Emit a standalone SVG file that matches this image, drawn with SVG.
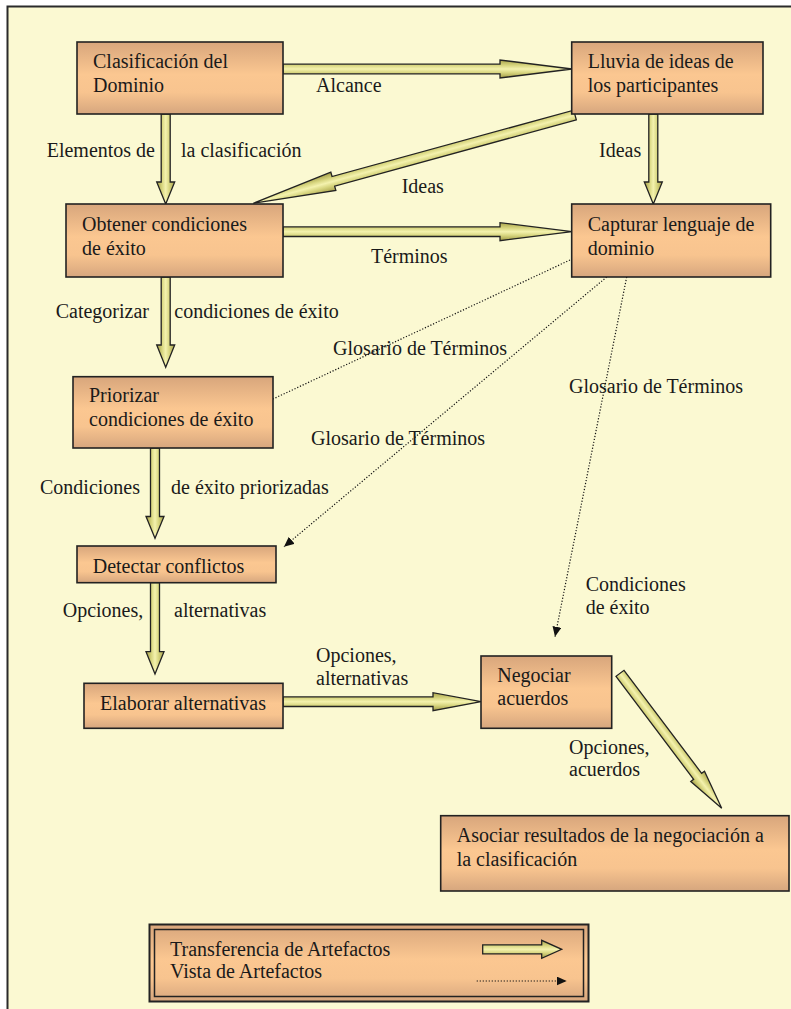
<svg xmlns="http://www.w3.org/2000/svg" width="791" height="1009" viewBox="0 0 791 1009">
<defs>
<linearGradient id="nodeGrad" x1="0" y1="0" x2="0" y2="1">
<stop offset="0" stop-color="#D8A67C"/>
<stop offset="0.45" stop-color="#FBC791"/>
<stop offset="0.7" stop-color="#F8C48F"/>
<stop offset="1" stop-color="#D6A67E"/>
</linearGradient>
<linearGradient id="arrowGrad" x1="0" y1="0" x2="0" y2="1">
<stop offset="0" stop-color="#A8A24A"/>
<stop offset="0.3" stop-color="#D8D680"/>
<stop offset="0.5" stop-color="#F4F2AE"/>
<stop offset="0.7" stop-color="#D8D680"/>
<stop offset="1" stop-color="#A09A44"/>
</linearGradient>
<marker id="dotHead" markerUnits="userSpaceOnUse" markerWidth="11" markerHeight="9" refX="10" refY="4.5" orient="auto">
<path d="M0,0 L10,4.5 L0,9 Z" fill="#111"/>
</marker>
</defs>
<style>
text{font-family:"Liberation Serif","Times New Roman",serif;font-size:20px;fill:#1a1a1a}
.node rect{fill:url(#nodeGrad);stroke:#222;stroke-width:1.6}
.fat{fill:url(#arrowGrad);stroke:#222;stroke-width:1.3;stroke-linejoin:miter}
.dot{fill:none;stroke:#111;stroke-width:1.2;stroke-dasharray:1.2 1.8}
</style>
<rect x="7.5" y="6.5" width="800" height="1020" fill="#FBF9D2" stroke="#2a2a2a" stroke-width="2"/>

<g id="connectors">
<!-- A1 Alcance -->
<path class="fat" transform="translate(283,69)" d="M0,-4.8 L217,-4.8 L217,-9 L289,0 L217,9 L217,4.8 L0,4.8 Z"/>
<!-- A2 Elementos de la clasificacion -->
<path class="fat" transform="translate(165.7,114) rotate(90)" d="M0,-4.5 L68,-4.5 L68,-9 L90,0 L68,9 L68,4.5 L0,4.5 Z"/>
<!-- A3 Ideas diagonal -->
<path class="fat" transform="translate(575,115) rotate(164.65)" d="M0,-5 L250.6,-5 L250.6,-9.5 L333.6,0 L250.6,9.5 L250.6,5 L0,5 Z"/>
<!-- A4 Ideas vertical -->
<path class="fat" transform="translate(653.3,114) rotate(90)" d="M0,-4.5 L68,-4.5 L68,-9 L90,0 L68,9 L68,4.5 L0,4.5 Z"/>
<!-- A5 Terminos -->
<path class="fat" transform="translate(283,231.7)" d="M0,-4.8 L217,-4.8 L217,-9 L289,0 L217,9 L217,4.8 L0,4.8 Z"/>
<!-- A6 Categorizar -->
<path class="fat" transform="translate(165.7,277) rotate(90)" d="M0,-4.5 L68,-4.5 L68,-9 L90.3,0 L68,9 L68,4.5 L0,4.5 Z"/>
<!-- A7 Condiciones -->
<path class="fat" transform="translate(155,448) rotate(90)" d="M0,-4.5 L68.5,-4.5 L68.5,-9 L90.3,0 L68.5,9 L68.5,4.5 L0,4.5 Z"/>
<!-- A8 Opciones -->
<path class="fat" transform="translate(155,582.7) rotate(90)" d="M0,-4.5 L69,-4.5 L69,-9 L91.3,0 L69,9 L69,4.5 L0,4.5 Z"/>
<!-- A9 Opciones alternativas -->
<path class="fat" transform="translate(283,701.7)" d="M0,-4.8 L150,-4.8 L150,-9 L198,0 L150,9 L150,4.8 L0,4.8 Z"/>
<!-- A10 Opciones acuerdos -->
<path class="fat" transform="translate(620,673.3) rotate(53)" d="M0,-5 L129,-5 L129,-8.6 L169,0 L129,8.6 L129,5 L0,5 Z"/>
<!-- dotted -->
<line class="dot" x1="570" y1="260" x2="273" y2="399"/>
<line class="dot" x1="606.7" y1="277" x2="284" y2="546.7" marker-end="url(#dotHead)"/>
<line class="dot" x1="626.7" y1="277" x2="555" y2="636.7" marker-end="url(#dotHead)"/>
</g>

<g id="labels">
<text x="316" y="92">Alcance</text>
<text x="46.7" y="157">Elementos de</text>
<text x="181" y="157">la clasificación</text>
<text x="401.7" y="193">Ideas</text>
<text x="599" y="157">Ideas</text>
<text x="371" y="263">Términos</text>
<text x="55.7" y="318">Categorizar</text>
<text x="174.3" y="318">condiciones de éxito</text>
<text x="333" y="355">Glosario de Términos</text>
<text x="569" y="393">Glosario de Términos</text>
<text x="311" y="445">Glosario de Términos</text>
<text x="40" y="494">Condiciones</text>
<text x="171" y="494">de éxito priorizadas</text>
<text x="585.7" y="591">Condiciones</text>
<text x="585.7" y="614">de éxito</text>
<text x="62.7" y="617">Opciones,</text>
<text x="174" y="617">alternativas</text>
<text x="316" y="662">Opciones,</text>
<text x="316" y="685">alternativas</text>
<text x="569" y="754">Opciones,</text>
<text x="569" y="776">acuerdos</text>
</g>

<g id="n1" class="node">
<rect x="77" y="42" width="206" height="72"/>
<text x="93" y="68">Clasificación del</text>
<text x="93" y="92">Dominio</text>
</g>
<g id="n2" class="node">
<rect x="571.7" y="42" width="191.3" height="72"/>
<text x="587.7" y="68">Lluvia de ideas de</text>
<text x="587.7" y="92">los participantes</text>
</g>
<g id="n3" class="node">
<rect x="66" y="204" width="217" height="73"/>
<text x="82" y="231">Obtener condiciones</text>
<text x="82" y="255">de éxito</text>
</g>
<g id="n4" class="node">
<rect x="571.7" y="204" width="199" height="73"/>
<text x="587.7" y="231">Capturar lenguaje de</text>
<text x="587.7" y="255">dominio</text>
</g>
<g id="n5" class="node">
<rect x="73" y="376.7" width="200" height="71.3"/>
<text x="89" y="402">Priorizar</text>
<text x="89" y="426">condiciones de éxito</text>
</g>
<g id="n6" class="node">
<rect x="77" y="546" width="199" height="36.7"/>
<text x="92.7" y="572.5">Detectar conflictos</text>
</g>
<g id="n7" class="node">
<rect x="84" y="683.3" width="199" height="45"/>
<text x="100" y="710">Elaborar alternativas</text>
</g>
<g id="n8" class="node">
<rect x="481" y="656" width="130.7" height="72.3"/>
<text x="497.3" y="682">Negociar</text>
<text x="497.3" y="705">acuerdos</text>
</g>
<g id="n9" class="node">
<rect x="440.7" y="815.7" width="348.3" height="75.3"/>
<text x="456.7" y="842">Asociar resultados de la negociación a</text>
<text x="456.7" y="866">la clasificación</text>
</g>

<g id="legend">
<rect x="149.5" y="924.5" width="439" height="77" fill="url(#nodeGrad)" stroke="#222" stroke-width="2"/>
<rect x="154.5" y="929.5" width="429" height="67" fill="none" stroke="#222" stroke-width="1.5"/>
<text x="170" y="956">Transferencia de Artefactos</text>
<text x="170" y="978">Vista de Artefactos</text>
<path class="fat" transform="translate(482.7,949.3)" d="M0,-4.5 L59,-4.5 L59,-9 L79,0 L59,9 L59,4.5 L0,4.5 Z"/>
<line class="dot" x1="476.7" y1="981" x2="566.7" y2="981" marker-end="url(#dotHead)"/>
</g>
</svg>
